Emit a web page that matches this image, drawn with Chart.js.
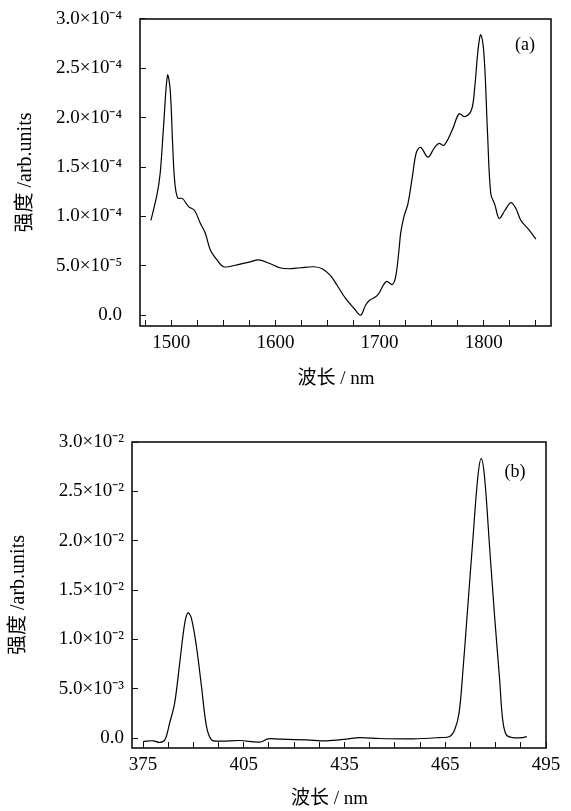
<!DOCTYPE html>
<html>
<head>
<meta charset="utf-8">
<script src="https://cdn.jsdelivr.net/npm/chart.js@4.4.0/dist/chart.umd.min.js"></script>
<style>
body{margin:0;background:#fff}
canvas{display:block}
</style>
</head>
<body>
<canvas id="chartA" width="571" height="400"></canvas>
<canvas id="chartB" width="571" height="411"></canvas>
<script>
// (a) 1470-1865 nm band
const wavelengthA = [1480.5, 1486.3, 1489.4, 1492.6, 1496.4, 1499.0, 1501.3, 1503.2, 1506.1, 1510.9,
  1516.6, 1522.4, 1527.9, 1532.7, 1537.5, 1543.9, 1550.3, 1563.2, 1576.0, 1583.9,
  1595.2, 1604.1, 1612.8, 1624.0, 1636.8, 1644.9, 1652.9, 1659.3, 1667.3, 1675.3,
  1681.7, 1686.5, 1690.4, 1697.8, 1706.4, 1712.2, 1715.4, 1718.6, 1720.2, 1723.4,
  1727.2, 1731.4, 1735.3, 1739.4, 1746.4, 1752.2, 1757.0, 1761.8, 1769.9, 1776.3,
  1781.7, 1788.2, 1791.3, 1794.5, 1797.1, 1800.3, 1803.6, 1806.7, 1810.6, 1814.7,
  1820.2, 1826.0, 1830.8, 1835.6, 1843.6, 1850.0]
const intensityA = [9.6e-5, 12.2e-5, 14.4e-5, 19.1e-5, 24.3e-5, 22.8e-5, 17.4e-5, 13.7e-5, 11.9e-5, 11.8e-5,
  11.0e-5, 10.6e-5, 9.3e-5, 8.3e-5, 6.6e-5, 5.6e-5, 4.9e-5, 5.1e-5, 5.4e-5, 5.6e-5,
  5.2e-5, 4.8e-5, 4.7e-5, 4.8e-5, 4.9e-5, 4.7e-5, 4.0e-5, 3.0e-5, 1.7e-5, 0.7e-5,
  0.0, 1.0e-5, 1.5e-5, 2.0e-5, 3.4e-5, 3.1e-5, 3.9e-5, 6.6e-5, 8.3e-5, 10.0e-5,
  11.3e-5, 14.0e-5, 16.5e-5, 17.0e-5, 16.0e-5, 16.9e-5, 17.4e-5, 17.2e-5, 18.8e-5, 20.4e-5,
  20.1e-5, 20.8e-5, 23.1e-5, 26.9e-5, 28.4e-5, 26.2e-5, 18.4e-5, 12.3e-5, 11.2e-5, 9.8e-5,
  10.6e-5, 11.4e-5, 10.8e-5, 9.6e-5, 8.6e-5, 7.7e-5]
const xLabelsA = [1500, 1600, 1700, 1800]
const yLabelsA = ['0.0', '5.0×10⁻⁵', '1.0×10⁻⁴', '1.5×10⁻⁴', '2.0×10⁻⁴', '2.5×10⁻⁴', '3.0×10⁻⁴']

// (b) 372-495 nm band
const wavelengthB = [375.0, 378.0, 380.0, 381.5, 382.9, 384.4, 385.9, 387.4, 388.4, 389.4,
  390.9, 392.4, 393.9, 395.4, 397.8, 403.8, 409.8, 412.2, 415.7, 423.6,
  429.6, 435.5, 439.5, 445.4, 455.4, 463.3, 466.3, 467.8, 469.1, 470.2,
  471.7, 473.2, 474.7, 475.7, 476.7, 478.2, 479.7, 481.2, 482.1, 483.2,
  485.1, 488.1, 489.3]
const intensityB = [-0.34e-3, -0.27e-3, -0.44e-3, -0.17e-3, 1.52e-3, 3.54e-3, 7.58e-3, 11.63e-3, 12.70e-3, 12.13e-3,
  9.26e-3, 5.22e-3, 1.17e-3, -0.17e-3, -0.30e-3, -0.24e-3, -0.40e-3, -0.07e-3, -0.10e-3, -0.17e-3,
  -0.27e-3, -0.10e-3, 0.06e-3, -0.04e-3, -0.07e-3, 0.06e-3, 0.16e-3, 0.84e-3, 2.53e-3, 6.57e-3,
  13.31e-3, 20.05e-3, 26.45e-3, 28.31e-3, 26.45e-3, 19.37e-3, 12.30e-3, 5.89e-3, 1.85e-3, 0.33e-3,
  0.06e-3, 0.06e-3, 0.16e-3]
const xLabelsB = [375, 405, 435, 465, 495]
const yLabelsB = ['0.0', '5.0×10⁻³', '1.0×10⁻²', '1.5×10⁻²', '2.0×10⁻²', '2.5×10⁻²', '3.0×10⁻²']

// trailing ideographic space nudges the centred title a bit to the left, like the original
const xTitle = '波长 / nm\u3000'
const yTitle = '强度 /arb.units'

Chart.defaults.font.family = '"Liberation Serif", "Noto Sans CJK SC", serif'
Chart.defaults.color = '#000'

// box around the plot + the (a)/(b) tag
const framePlugin = {
  id: 'frame',
  afterDraw(chart, args, opts){
    const {ctx, chartArea: a} = chart
    ctx.save()
    ctx.strokeStyle = '#111'
    ctx.lineWidth = 1.6
    ctx.strokeRect(a.left, a.top, a.right - a.left, a.bottom - a.top)
    ctx.fillStyle = '#000'
    ctx.font = '18px "Liberation Serif"'
    ctx.textAlign = 'center'
    ctx.textBaseline = 'middle'
    ctx.fillText(opts.tag, a.right - opts.dx, a.top + opts.dy)
    ctx.restore()
  }
}

function range(start, step, count){
  let out = []
  for(let i = 0; i < count; i++) out.push(start + step * i)
  return out
}

function makeChart(id, p){
  const points = p.xs.map((x, i) => ({x: x, y: p.ys[i]}))
  return new Chart(document.getElementById(id), {
    type: 'line',
    data: {
      datasets: [{
        data: points,
        borderColor: '#000',
        borderWidth: 1.2,
        pointRadius: 0,
        tension: 0.35,
        fill: false
      }]
    },
    options: {
      responsive: false,
      animation: false,
      layout: {padding: p.padding},
      plugins: {
        legend: {display: false},
        tooltip: {enabled: false},
        frame: {tag: p.tag, dx: p.tagDx, dy: p.tagDy}
      },
      scales: {
        x: {
          type: 'linear',
          min: p.xMin,
          max: p.xMax,
          afterBuildTicks: s => { s.ticks = p.xTicks.map(v => ({value: v})) },
          // fixed box sizes so the plot area lands where the original has it
          afterFit: s => { s.height = p.xHeight; s.paddingLeft = 0; s.paddingRight = 0 },
          ticks: {
            autoSkip: false,
            maxRotation: 0,
            padding: 12,
            font: {size: 19},
            callback: v => p.xLabels.includes(v) ? String(v) : ''
          },
          grid: {drawOnChartArea: false, tickLength: -6, tickColor: '#111'},
          border: {display: false},
          title: {display: true, text: xTitle, font: {size: 19}, padding: {top: 0, bottom: p.xTitlePad}}
        },
        y: {
          min: p.yMin,
          max: p.yMax,
          afterBuildTicks: s => { s.ticks = p.yTicks.map(v => ({value: v})) },
          afterFit: s => { s.width = p.yWidth; s.paddingTop = 0; s.paddingBottom = 0 },
          ticks: {
            padding: p.yTickPad,
            font: {size: 19},
            callback: (v, i) => i % 2 === 0 ? p.yLabels[i / 2] : ''
          },
          grid: {drawOnChartArea: false, tickLength: -6, tickColor: '#111'},
          border: {display: false},
          title: {display: true, text: yTitle, font: {size: 20}, padding: {top: p.yTitlePad, bottom: 0}}
        }
      }
    },
    plugins: [framePlugin]
  })
}

makeChart('chartA', {
  xs: wavelengthA, ys: intensityA,
  xMin: 1470, xMax: 1864.5, xTicks: range(1475, 25, 16), xLabels: xLabelsA,
  yMin: -1.1e-5, yMax: 3e-4, yTicks: range(0, 2.5e-5, 13), yLabels: yLabelsA,
  padding: {top: 19, right: 20, bottom: 0, left: 0},
  xHeight: 74, yWidth: 140, yTickPad: 24,
  xTitlePad: 10, yTitlePad: 14,
  tag: '(a)', tagDx: 26, tagDy: 26
})

makeChart('chartB', {
  xs: wavelengthB, ys: intensityB,
  xMin: 371.7, xMax: 495, xTicks: range(375, 7.5, 17), xLabels: xLabelsB,
  yMin: -1.0e-3, yMax: 3e-2, yTicks: range(0, 2.5e-3, 13), yLabels: yLabelsB,
  padding: {top: 42, right: 25, bottom: 0, left: 0},
  xHeight: 63, yWidth: 132, yTickPad: 14,
  xTitlePad: 1, yTitlePad: 7,
  tag: '(b)', tagDx: 31, tagDy: 30
})
</script>
</body>
</html>
